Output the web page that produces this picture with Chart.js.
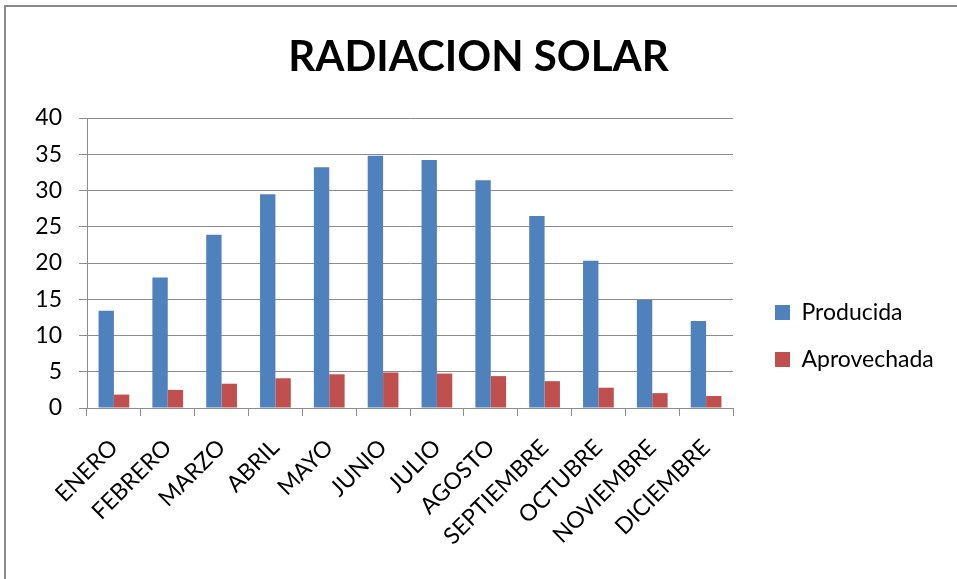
<!DOCTYPE html>
<html>
<head>
<meta charset="utf-8">
<script src="https://cdn.jsdelivr.net/npm/chart.js@4.4.1/dist/chart.umd.min.js"></script>
<style>
  html, body { margin: 0; padding: 0; background: #ffffff; overflow: hidden; }
  #frame { position: absolute; left: 4px; top: 5px; width: 1200px; height: 900px;
           border: 2px solid #8a8a8a; box-sizing: border-box; }
  #wrap { position: absolute; left: 0; top: 0; width: 957px; height: 579px; }
</style>
</head>
<body>
<div id="frame"></div>
<div id="wrap"><canvas id="chart" width="957" height="579"></canvas></div>
<script>
// Monthly solar radiation: produced vs. harnessed
const meses = ['ENERO', 'FEBRERO', 'MARZO', 'ABRIL', 'MAYO', 'JUNIO',
               'JULIO', 'AGOSTO', 'SEPTIEMBRE', 'OCTUBRE', 'NOVIEMBRE', 'DICIEMBRE'];
const producida   = [13.4, 18.0, 23.9, 29.5, 33.2, 34.8, 34.2, 31.4, 26.5, 20.3, 14.9, 12.0];
const aprovechada = [1.85, 2.5, 3.35, 4.1, 4.65, 4.9, 4.75, 4.4, 3.7, 2.8, 2.05, 1.65];
const yTicks = [0, 5, 10, 15, 20, 25, 30, 35, 40];

const FONT = 'Lato, "Open Sans", sans-serif';
const GRID = '#8c8c8c';
const LEGEND_WIDTH = 224;
const LEGEND_SHIFT_X = 18;
const LEGEND_SHIFT_Y = 277;

// Keeps the legend column at a fixed width and nudges it beside the plot
const legendPlacement = {
  id: 'legendPlacement',
  beforeLayout(chart) {
    const lg = chart.legend;
    if (lg && !lg.__fixedFit) {
      const fit = lg.fit;
      lg.fit = function () { fit.call(this); this.width = LEGEND_WIDTH; };
      lg.__fixedFit = true;
    }
  },
  afterLayout(chart) {
    const lg = chart.legend;
    if (!lg) return;
    lg.left += LEGEND_SHIFT_X; lg.right += LEGEND_SHIFT_X;
    lg.top += LEGEND_SHIFT_Y; lg.bottom += LEGEND_SHIFT_Y;
  }
};

new Chart(document.getElementById('chart'), {
  type: 'bar',
  data: {
    labels: meses,
    datasets: [
      { label: 'Producida', data: producida, backgroundColor: '#4F81BD' },
      { label: 'Aprovechada', data: aprovechada, backgroundColor: '#C0504D' }
    ]
  },
  options: {
    responsive: false,
    devicePixelRatio: 1,
    animation: false,
    layout: { padding: 0 },
    datasets: { bar: { categoryPercentage: 0.571, barPercentage: 1.0 } },
    plugins: {
      title: {
        display: true,
        text: 'RADIACION SOLAR',
        color: '#000000',
        font: { family: FONT, size: 42, weight: 'bold' },
        padding: { top: 31.8, bottom: 35.8 }
      },
      legend: {
        position: 'right',
        align: 'start',
        labels: {
          color: '#000000',
          font: { family: FONT, size: 23 },
          boxWidth: 15,
          boxHeight: 15,
          padding: 24
        }
      },
      tooltip: { enabled: false }
    },
    scales: {
      x: {
        offset: true,
        grid: { display: true, offset: true, drawOnChartArea: false, drawTicks: true,
                tickLength: 8, color: GRID, lineWidth: 1 },
        border: { display: true, color: GRID, width: 1 },
        ticks: { autoSkip: false, minRotation: 45, maxRotation: 45, padding: 18,
                 color: '#000000', font: { family: FONT, size: 23 } },
        afterFit(scale) { scale.height = 171; }
      },
      y: {
        min: 0,
        max: 40,
        afterBuildTicks(scale) { scale.ticks = yTicks.map(v => ({ value: v })); },
        grid: { color: GRID, lineWidth: 1, tickLength: 8, drawTicks: true },
        border: { display: true, color: GRID, width: 1 },
        ticks: { padding: 17, color: '#000000', font: { family: FONT, size: 23 } },
        afterFit(scale) { scale.width = 87; }
      }
    }
  },
  plugins: [legendPlacement]
});
</script>
</body>
</html>
